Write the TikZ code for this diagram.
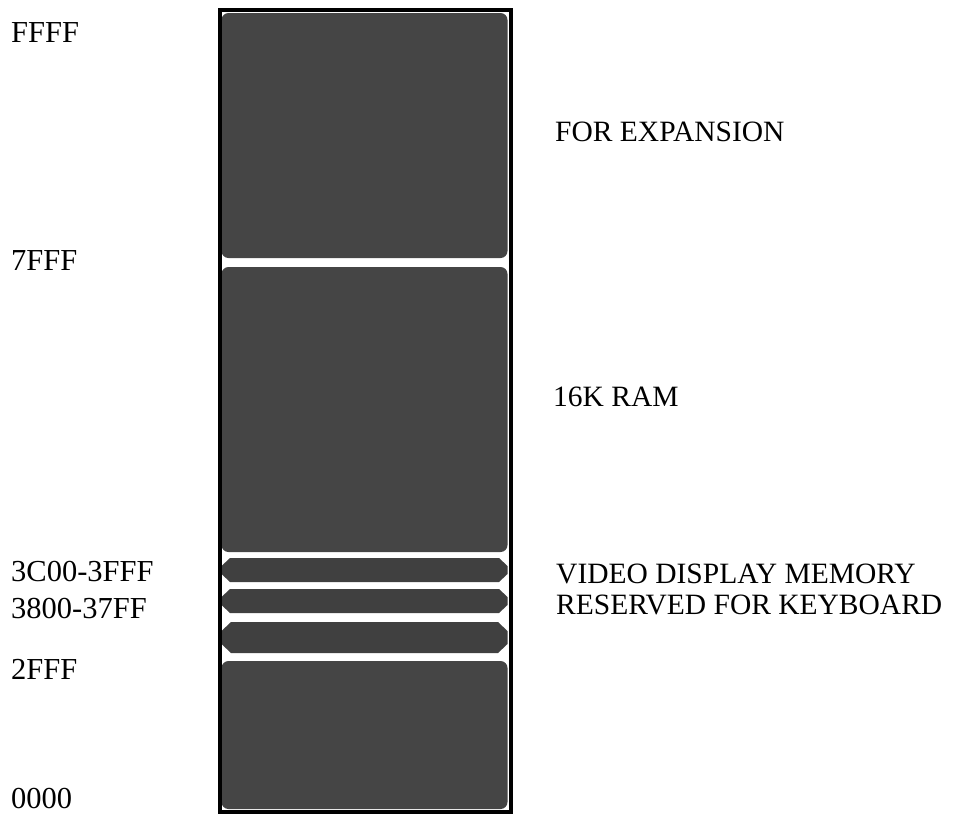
\documentclass[tikz,border=0pt]{standalone}
\usepackage{fontspec}
\setmainfont{Liberation Serif}
\begin{document}
\begin{tikzpicture}[x=1pt,y=-1pt,
  memblock/.style={fill=black!73, rounded corners=7pt},
  memband/.style={fill=black!75},
  frame/.style={draw=black, line width=4pt},
  addr/.style={anchor=base west, inner sep=0pt, font=\fontsize{30.5}{32}\selectfont},
  area/.style={anchor=base west, inner sep=0pt, font=\fontsize{29.5}{31}\selectfont}]
\useasboundingbox (0,0) rectangle (960,817);
% memory blocks
\fill[memblock] (221.5,13) rectangle (507.5,258);
\fill[memblock] (221.5,267) rectangle (507.5,552);
\fill[memband] (230,558) -- (499,558) -- (507.5,566) -- (507.5,574) -- (499,582) -- (230,582) -- (221.5,574) -- (221.5,566) -- cycle;
\fill[memband] (230,589) -- (499,589) -- (507.5,597) -- (507.5,605) -- (499,613) -- (230,613) -- (221.5,605) -- (221.5,597) -- cycle;
\fill[memband] (231,622) -- (498,622) -- (507.5,631) -- (507.5,644) -- (498,653) -- (231,653) -- (221.5,644) -- (221.5,631) -- cycle;
\fill[memblock] (221.5,661) rectangle (507.5,809);
% outer frame
\draw[frame] (219.5,9.5) rectangle (510.5,812);
% address labels
\node[addr] (aFFFF) at (11,42) {FFFF};
\node[addr] (a7FFF) at (11,270) {7FFF};
\node[addr] (a3C00) at (11,581) {3C00-3FFF};
\node[addr] (a3800) at (11,618) {3800-37FF};
\node[addr] (a2FFF) at (11,679) {2FFF};
\node[addr] (a0000) at (11,808) {0000};
% area labels
\node[area] (lexp) at (555,141) {FOR EXPANSION};
\node[area] (lram) at (553,406) {16K RAM};
\node[area] (lvid) at (556,583) {VIDEO DISPLAY MEMORY};
\node[area] (lkey) at (556,614) {RESERVED FOR KEYBOARD};
\end{tikzpicture}
\end{document}
